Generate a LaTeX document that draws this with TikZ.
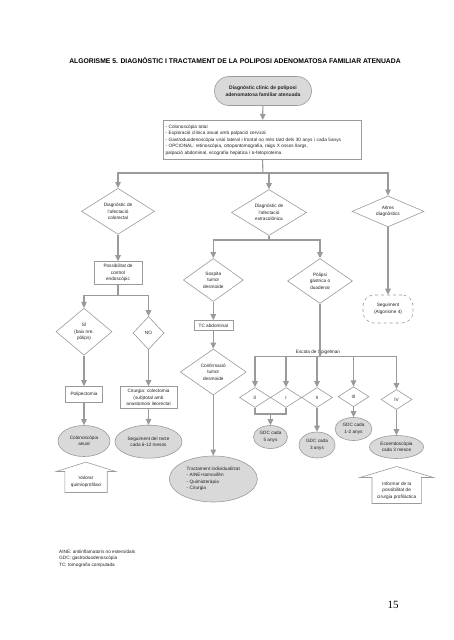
\documentclass[tikz,border=0pt]{standalone}
\usepackage{fontspec}
\setmainfont{Liberation Sans}
\newfontfamily\pagefont{Liberation Serif}
\usetikzlibrary{shapes.geometric,arrows.meta}

\definecolor{edge}{HTML}{9A9A9A}
\definecolor{shade}{HTML}{D9D9D9}
\definecolor{ink}{HTML}{222222}

\tikzset{
  txt/.style={font=\fontsize{4.7}{6.5}\selectfont, text=ink, align=center, inner sep=0pt},
  dia/.style={txt, diamond, shape aspect=1.6, draw=edge, line width=0.6pt, fill=white},
  box/.style={txt, rectangle, draw=edge, line width=0.6pt, fill=white},
  ell/.style={txt, ellipse, draw=edge, line width=0.6pt, fill=shade},
  outline/.style={draw=edge, line width=0.6pt},
  line/.style={draw=edge, line width=1.1pt},
  arr/.style={line, -{Triangle[length=6pt,width=5.5pt]}},
}

\begin{document}
\begin{tikzpicture}[x=1pt,y=-1pt]

\fill[white] (0,0) rectangle (453,640);
\useasboundingbox (0,0) rectangle (453,640);

% title
\node (title) at (235,61) {\fontsize{6.8}{8}\selectfont\bfseries ALGORISME 5. DIAGNÒSTIC I TRACTAMENT DE LA POLIPOSI ADENOMATOSA FAMILIAR ATENUADA};

% start
\node[txt, draw=edge, line width=0.6pt, fill=shade, rounded corners=14.5pt, minimum width=97pt, minimum height=29pt, font=\fontsize{5}{7}\selectfont\bfseries] (inici) at (263,91) {Diagnòstic clínic de poliposi\\adenomatosa familiar atenuada};
\node[box, align=left, text width=194pt, inner xsep=2.2pt, minimum height=39pt] (proves) at (262.5,139.8) {- Colonoscòpia total\\- Exploració clínica anual amb palpació cervical\\- Gastroduodenoscòpia visió lateral i frontal no més tard dels 30 anys i cada 5anys\\- OPCIONAL: retinoscòpia, ortopantomografia, raigs X ossos llargs,\\palpació abdominal, ecografia hepàtica i α-fetoproteïna};
\coordinate (bj) at (263,173);

% three diagnoses
\node[dia, minimum width=73pt, minimum height=46pt] (colo) at (118,211.3) {Diagnòstic de\\l'afectació\\colorectal};
\node[dia, minimum width=75pt, minimum height=46pt] (extra) at (269,212.5) {Diagnòstic de\\l'afectació\\extracolònica};
\node[dia, minimum width=72pt, minimum height=31pt] (altres) at (388,211.4) {Altres\\diagnòstics};

% colorectal branch
\node[box, minimum width=48pt, minimum height=23pt] (poss) at (118,273) {Possibilitat de\\control\\endoscòpic};
\coordinate (pj) at (118,295.3);
\node[dia, minimum width=56pt, minimum height=47pt] (si) at (84,331.7) {SÍ\\(baix nre.\\pòlips)};
\node[dia, minimum width=31pt, minimum height=33pt] (no) at (148.5,333) {NO};
\node[box, minimum width=37pt, minimum height=16pt] (polip) at (84,394.5) {Polipectomia};
\node[box, minimum width=57pt, minimum height=22pt] (cir) at (148.5,397.5) {Cirurgia: colectomia\\(sub)total amb\\anastomosi ileorectal};
\node[ell, minimum width=52pt, minimum height=31pt] (colon) at (84,441) {Colonoscòpia\\anual};
\node[ell, minimum width=67pt, minimum height=33pt] (segrec) at (148.5,441.7) {Seguiment del recte\\cada 6-12 mesos};
\node[txt, minimum width=42pt, minimum height=20.6pt] (valorar) at (86,482) {Valorar\\quimioprofilaxi};

% extracolonic branch
\coordinate (ej) at (269,240);
\node[dia, minimum width=60pt, minimum height=43pt] (sosp) at (213.3,280) {Sospita\\tumor\\desmoide};
\node[box, minimum width=39pt, minimum height=10pt] (tc) at (213.3,325.5) {TC abdominal};
\node[dia, minimum width=66pt, minimum height=46pt] (conf) at (213.3,372) {Confirmació\\tumor\\desmoide};
\node[ell, align=left, minimum width=88pt, minimum height=46pt] (tract) at (213.3,479) {Tractament individualitzat\\- AINE+tamoxifèn\\- Quimioteràpia\\- Cirurgia};
\node[dia, minimum width=65pt, minimum height=45pt] (polg) at (320,281) {Pòlipsi\\gàstrica o\\duodenal};

% Spigelman
\coordinate (sj) at (320,356.7);
\node[txt, anchor=south] (spig) at (318,354.5) {Escola de Spigelman};
\node[dia, minimum width=31pt, minimum height=20pt] (s0) at (255,397.5) {0};
\node[dia, minimum width=31pt, minimum height=20pt] (s1) at (286,397.5) {I};
\node[dia, minimum width=31pt, minimum height=20pt] (s2) at (317,397.5) {II};
\node[dia, minimum width=31pt, minimum height=20pt] (s3) at (353.5,396.7) {III};
\node[dia, minimum width=31pt, minimum height=20pt] (s4) at (396.5,399.5) {IV};
\coordinate (j01) at (270.5,414);
\node[ell, minimum width=34pt, minimum height=23pt] (gdc5) at (270.5,437) {GDC cada\\5 anys};
\node[ell, minimum width=36pt, minimum height=26pt] (gdc3) at (317,445) {GDC cada\\3 anys};
\node[ell, minimum width=37pt, minimum height=23pt] (gdc12) at (353.5,429) {GDC cada\\1-2 anys};
\node[ell, minimum width=54pt, minimum height=23pt] (eco) at (396.5,447) {Ecoendoscòpia\\cada 3 mesos};
\node[txt, minimum width=49pt, minimum height=25.6pt] (informar) at (396.7,490.5) {Informar de la\\possibilitat de\\cirurgia profilàctica};

% other diagnoses
\node[txt, draw=edge, line width=0.6pt, dashed, rounded corners=11pt, minimum width=50pt, minimum height=28pt] (segalg) at (388,309) {Seguiment\\(Algorisme 4)};

% block arrows
\draw[outline] (valorar.south west) -- (valorar.north west) -- ([xshift=-8.5pt]valorar.north west) -- ([yshift=9.4pt]valorar.north) -- ([xshift=8.5pt]valorar.north east) -- (valorar.north east) -- (valorar.south east) -- cycle;
\draw[outline] (informar.south west) -- (informar.north west) -- ([xshift=-12pt]informar.north west) -- ([yshift=11pt]informar.north) -- ([xshift=12pt]informar.north east) -- (informar.north east) -- (informar.south east) -- cycle;

% connectors
\draw[arr] (inici) -- (proves);
\draw[line] (proves.south) -- (bj);
\draw[arr] (bj) -| (colo.north);
\draw[arr] (bj) -| (extra.north);
\draw[arr] (bj) -| (altres.north);

\draw[arr] (colo) -- (poss);
\draw[line] (poss.south) -- (pj);
\draw[arr] (pj) -| (si.north);
\draw[arr] (pj) -| (no.north);
\draw[arr] (si) -- (polip);
\draw[arr] (no) -- (cir);
\draw[arr] (polip) -- (colon);
\draw[arr] (cir) -- (segrec);

\draw[line] (extra.south) -- (ej);
\draw[arr] (ej) -| (sosp.north);
\draw[arr] (ej) -| (polg.north);
\draw[arr] (sosp) -- (tc);
\draw[arr] (tc) -- (conf);
\draw[arr] (conf) -- (tract);

\draw[arr] (altres) -- (segalg);

\draw[line] (polg.south) -- (sj);
\draw[arr] (sj) -| (s0.north);
\draw[arr] (sj) -| (s1.north);
\draw[arr] (sj) -| (s2.north);
\draw[arr] (sj) -| (s3.north);
\draw[arr] (sj) -| (s4.north);
\draw[line] (s0.south) |- (j01) -| (s1.south);
\draw[arr] (j01) -- (gdc5);
\draw[arr] (s2) -- (gdc3);
\draw[arr] (s3) -- (gdc12);
\draw[arr] (s4) -- (eco);

% footnotes and page number
\node[txt, align=left, anchor=west] (notes) at (59,558.5) {AINE: antiinflamatoris no esteroïdals\\GDC: gastroduodenoscòpia\\TC: tomografia computada};
\node (pagina) at (393,605) {\pagefont\fontsize{11}{13}\selectfont 15};

\end{tikzpicture}
\end{document}
